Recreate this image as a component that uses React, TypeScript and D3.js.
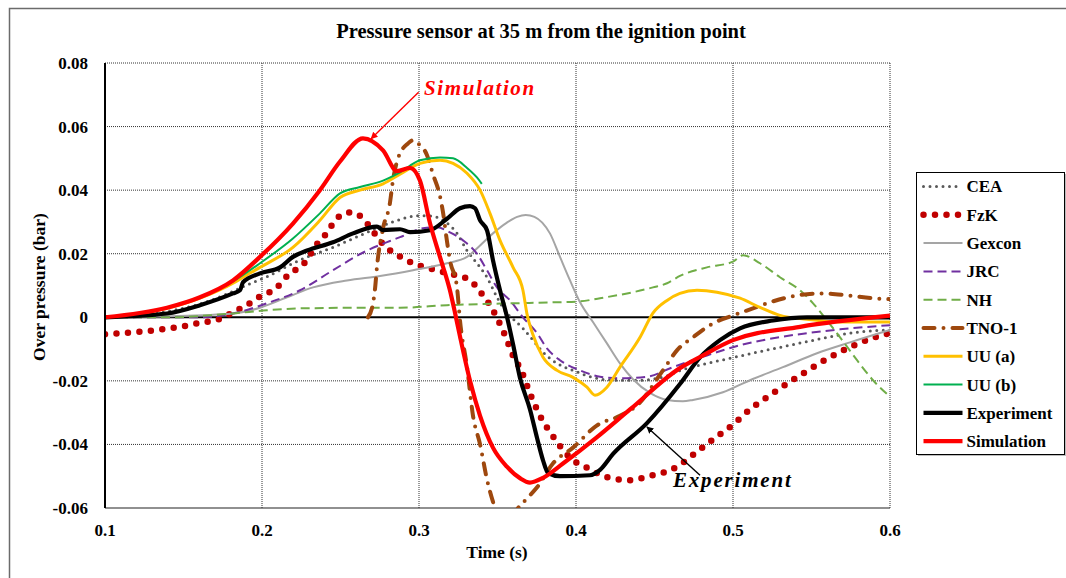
import React from 'react';
import * as d3 from 'd3';

const W = 1066;
const H = 578;

// ---- axes ----
const xDomain = [0.1, 0.6];
const yDomain = [-0.06, 0.08];
const xTicks = [0.1, 0.2, 0.3, 0.4, 0.5, 0.6];
const yTicks = [-0.06, -0.04, -0.02, 0, 0.02, 0.04, 0.06, 0.08];
const title = 'Pressure sensor at 35 m from the ignition point';
const xTitle = 'Time (s)';
const yTitle = 'Over pressure (bar)';

// ---- series data ----
const ceaT = [0.1, 0.1395, 0.1605, 0.1752, 0.186, 0.2032, 0.2242, 0.2452, 0.2669, 0.2834, 0.3006, 0.3089, 0.3153, 0.3242, 0.3306, 0.3369, 0.3433, 0.3497, 0.356, 0.3599, 0.3662, 0.3726, 0.379, 0.3879, 0.3981, 0.4108, 0.4236, 0.4408, 0.458, 0.4662, 0.4834, 0.4981, 0.5153, 0.5363, 0.5573, 0.579, 0.6];
const ceaV = [0, 0.0018, 0.0042, 0.0068, 0.0092, 0.0128, 0.018, 0.022, 0.0267, 0.03, 0.032, 0.0318, 0.0305, 0.0264, 0.021, 0.017, 0.0126, 0.0063, 0.0013, -0.0005, -0.0035, -0.0072, -0.011, -0.0145, -0.0167, -0.0189, -0.0198, -0.0198, -0.0184, -0.0168, -0.0145, -0.0129, -0.011, -0.0088, -0.0066, -0.0047, -0.004];

const fzkT = [0.1, 0.1331, 0.1478, 0.1624, 0.1701, 0.1841, 0.1904, 0.1968, 0.2032, 0.2096, 0.2146, 0.221, 0.2274, 0.235, 0.2401, 0.2484, 0.256, 0.2637, 0.2688, 0.2771, 0.2834, 0.2898, 0.2962, 0.3038, 0.3115, 0.3185, 0.3261, 0.3325, 0.3376, 0.342, 0.3465, 0.3497, 0.3529, 0.356, 0.3592, 0.3656, 0.3707, 0.3771, 0.3853, 0.393, 0.3981, 0.4057, 0.4121, 0.4197, 0.4268, 0.4344, 0.442, 0.449, 0.4567, 0.4643, 0.4758, 0.4873, 0.4994, 0.5108, 0.5236, 0.535, 0.5478, 0.5605, 0.5745, 0.5885, 0.6];
const fzkV = [-0.0053, -0.004, -0.003, -0.0016, -0.001, 0.0022, 0.0038, 0.006, 0.0075, 0.0094, 0.0123, 0.0148, 0.0173, 0.023, 0.0258, 0.0314, 0.033, 0.0314, 0.0283, 0.023, 0.0204, 0.0186, 0.017, 0.0157, 0.0148, 0.0138, 0.0129, 0.0116, 0.009, 0.006, 0.0028, -0.0003, -0.0035, -0.0072, -0.0113, -0.0173, -0.024, -0.031, -0.0374, -0.0425, -0.045, -0.047, -0.0487, -0.0503, -0.051, -0.0513, -0.0506, -0.0497, -0.0487, -0.047, -0.0428, -0.0384, -0.034, -0.029, -0.0245, -0.0207, -0.0167, -0.0129, -0.0094, -0.0066, -0.005];

const gexT = [0.1, 0.1395, 0.1815, 0.1987, 0.2159, 0.2325, 0.2541, 0.2752, 0.2962, 0.3178, 0.3306, 0.3389, 0.3471, 0.356, 0.3625, 0.368, 0.3735, 0.3785, 0.3834, 0.3898, 0.3962, 0.4025, 0.4108, 0.4197, 0.428, 0.4363, 0.4471, 0.458, 0.468, 0.4745, 0.4936, 0.5108, 0.5318, 0.5535, 0.5745, 0.6];
const gexV = [0, 0.0003, 0.0012, 0.003, 0.0063, 0.0094, 0.0116, 0.013, 0.0148, 0.017, 0.019, 0.0226, 0.0264, 0.0298, 0.0316, 0.0322, 0.0316, 0.0298, 0.0264, 0.019, 0.0116, 0.0048, -0.0015, -0.0082, -0.0145, -0.0195, -0.0238, -0.026, -0.0264, -0.026, -0.0236, -0.0198, -0.0157, -0.0113, -0.0079, -0.004];

const jrcT = [0.1, 0.1605, 0.1815, 0.2032, 0.2242, 0.2452, 0.2669, 0.2815, 0.2879, 0.3025, 0.3115, 0.3197, 0.328, 0.3369, 0.3433, 0.3497, 0.358, 0.3662, 0.3752, 0.3815, 0.3898, 0.4025, 0.4153, 0.428, 0.4452, 0.4618, 0.4834, 0.5045, 0.5255, 0.5471, 0.5682, 0.6];
const jrcV = [0, 0, 0.0012, 0.0044, 0.0085, 0.0148, 0.021, 0.024, 0.0252, 0.028, 0.0283, 0.0267, 0.0242, 0.02, 0.0148, 0.0094, 0.0053, 0, -0.005, -0.0098, -0.0135, -0.0167, -0.0187, -0.0192, -0.0187, -0.0157, -0.012, -0.0088, -0.0066, -0.005, -0.0038, -0.0025];

const nhT = [0.1, 0.1395, 0.1815, 0.2032, 0.2242, 0.2669, 0.2879, 0.3178, 0.3599, 0.3853, 0.4025, 0.4153, 0.4325, 0.449, 0.458, 0.4662, 0.4834, 0.5, 0.5064, 0.5172, 0.5299, 0.5427, 0.551, 0.5599, 0.5682, 0.579, 0.5892, 0.6];
const nhV = [0, 0, 0.0012, 0.0022, 0.0028, 0.003, 0.003, 0.0038, 0.0044, 0.0047, 0.005, 0.006, 0.0075, 0.0094, 0.0107, 0.013, 0.0157, 0.0175, 0.0195, 0.017, 0.0126, 0.0085, 0.0044, -0.001, -0.0063, -0.0135, -0.0198, -0.025];

const tnoT = [0.2675, 0.2707, 0.272, 0.2732, 0.2771, 0.2815, 0.2834, 0.2866, 0.293, 0.2962, 0.2994, 0.3051, 0.3089, 0.3134, 0.3153, 0.3178, 0.3197, 0.3242, 0.3261, 0.3306, 0.3344, 0.3389, 0.3433, 0.3471, 0.3548, 0.3631, 0.3688, 0.3752, 0.3853, 0.3981, 0.4134, 0.428, 0.4389, 0.4554, 0.4643, 0.4745, 0.4873, 0.5, 0.5127, 0.5255, 0.5408, 0.5554, 0.5726, 0.5892, 0.6];
const tnoV = [0, 0.0044, 0.009, 0.0157, 0.028, 0.036, 0.043, 0.05, 0.0547, 0.0557, 0.0547, 0.051, 0.045, 0.038, 0.033, 0.024, 0.018, 0.0094, -0.001, -0.0157, -0.031, -0.04, -0.051, -0.058, -0.067, -0.06, -0.057, -0.0535, -0.046, -0.041, -0.034, -0.031, -0.0277, -0.0167, -0.0104, -0.0063, -0.0019, 0.0006, 0.0028, 0.005, 0.0069, 0.0075, 0.0069, 0.006, 0.0057];

const uuaT = [0.1, 0.1395, 0.1605, 0.1815, 0.1879, 0.1987, 0.2197, 0.2369, 0.2497, 0.2624, 0.2771, 0.2879, 0.3006, 0.3134, 0.3217, 0.3306, 0.3389, 0.3452, 0.3516, 0.3599, 0.3662, 0.3688, 0.3726, 0.379, 0.3879, 0.3981, 0.407, 0.4121, 0.4197, 0.428, 0.4408, 0.449, 0.458, 0.4662, 0.4771, 0.4898, 0.5045, 0.5172, 0.5299, 0.5471, 0.5682, 0.6];
const uuaV = [0, 0.0028, 0.006, 0.0107, 0.0126, 0.0157, 0.022, 0.0305, 0.0377, 0.04, 0.042, 0.045, 0.0484, 0.0494, 0.0484, 0.0453, 0.04, 0.0327, 0.0242, 0.0157, 0.0085, 0.001, -0.0055, -0.0126, -0.0167, -0.0189, -0.022, -0.0245, -0.022, -0.0157, -0.0063, 0.0013, 0.0053, 0.0075, 0.0085, 0.0079, 0.006, 0.0031, 0.0006, -0.0006, -0.0015, -0.0015];

const uubT = [0.1, 0.1395, 0.1605, 0.1815, 0.1987, 0.2197, 0.2369, 0.2497, 0.2624, 0.2771, 0.2879, 0.3006, 0.3134, 0.3217, 0.3306, 0.3369, 0.34];
const uubV = [0, 0.003, 0.0063, 0.0113, 0.017, 0.0248, 0.0327, 0.039, 0.041, 0.043, 0.0456, 0.0494, 0.0503, 0.05, 0.047, 0.044, 0.042];

const expT = [0.1, 0.1395, 0.1605, 0.1815, 0.186, 0.1879, 0.1987, 0.2115, 0.2197, 0.2287, 0.2452, 0.258, 0.2732, 0.2771, 0.2879, 0.2943, 0.307, 0.3178, 0.3261, 0.3325, 0.3357, 0.3389, 0.3433, 0.3471, 0.3516, 0.3561, 0.3599, 0.3643, 0.3707, 0.3752, 0.379, 0.3822, 0.3898, 0.4089, 0.4153, 0.4236, 0.4452, 0.4662, 0.479, 0.4917, 0.5045, 0.5255, 0.5471, 0.6];
const expV = [0, 0.0012, 0.0038, 0.0075, 0.0085, 0.011, 0.0138, 0.0157, 0.019, 0.021, 0.0236, 0.0264, 0.0285, 0.0274, 0.0277, 0.0268, 0.0274, 0.031, 0.0343, 0.035, 0.0343, 0.0305, 0.0274, 0.018, 0.0085, 0, -0.0085, -0.019, -0.029, -0.038, -0.045, -0.049, -0.05, -0.0497, -0.048, -0.043, -0.0333, -0.021, -0.0126, -0.0072, -0.0035, -0.001, 0, 0];

const simT = [0.1, 0.1395, 0.1605, 0.1815, 0.1987, 0.2197, 0.2369, 0.2497, 0.2643, 0.2771, 0.286, 0.2943, 0.3006, 0.307, 0.3134, 0.3197, 0.3229, 0.3261, 0.3325, 0.3389, 0.3471, 0.356, 0.3643, 0.3707, 0.379, 0.3917, 0.4134, 0.4344, 0.4662, 0.479, 0.5, 0.5427, 0.6];
const simV = [0, 0.003, 0.0063, 0.0116, 0.019, 0.0295, 0.04, 0.049, 0.0563, 0.0525, 0.046, 0.047, 0.043, 0.0296, 0.0189, 0.0085, 0.0015, -0.006, -0.02, -0.031, -0.041, -0.047, -0.0506, -0.052, -0.0505, -0.046, -0.0377, -0.029, -0.016, -0.0125, -0.0072, -0.003, 0.0005];

const seriesNames = ['CEA', 'FzK', 'Gexcon', 'JRC', 'NH', 'TNO-1', 'UU (a)', 'UU (b)', 'Experiment', 'Simulation'];

// annotations (data coords)
const simLabel = { text: 'Simulation', t: 0.3032, v: 0.0698, fromT: 0.2997, fromV: 0.0708, toT: 0.2695, toV: 0.0562 };
const expLabel = { text: 'Experiment', t: 0.4618, v: -0.0535, fromT: 0.479, fromV: -0.0497, toT: 0.4452, toV: -0.0345 };

type Style = { color: string; width: number; dash?: string; cap?: string };
const styles: Style[] = [
  { color: '#595959', width: 3, dash: '0 6.5', cap: 'round' },
  { color: '#C00000', width: 6.5, dash: '0 11.5', cap: 'round' },
  { color: '#A5A5A5', width: 2 },
  { color: '#7030A0', width: 2, dash: '9 5' },
  { color: '#70AD47', width: 2, dash: '9 5' },
  { color: '#9E480E', width: 4, dash: '11 9 0 9', cap: 'round' },
  { color: '#FFC000', width: 3 },
  { color: '#00B050', width: 2 },
  { color: '#000000', width: 4.2 },
  { color: '#FF0000', width: 4.2 },
];

const seriesData: [number[], number[]][] = [
  [ceaT, ceaV], [fzkT, fzkV], [gexT, gexV], [jrcT, jrcV], [nhT, nhV],
  [tnoT, tnoV], [uuaT, uuaV], [uubT, uubV], [expT, expV], [simT, simV],
];

const FONT = '"Liberation Serif", "Times New Roman", serif';

export default function App() {
  const x = d3.scaleLinear().domain(xDomain).range([105, 890]);
  const y = d3.scaleLinear().domain(yDomain).range([508, 63]);
  const line = d3
    .line<[number, number]>()
    .x((d) => x(d[0]))
    .y((d) => y(d[1]))
    .curve(d3.curveMonotoneX);

  const x0 = x(xDomain[0]);
  const x1 = x(xDomain[1]);
  const yTop = y(yDomain[1]);
  const yBot = y(yDomain[0]);

  const legendX = 916.5;
  const legendY = 172.5;
  const legendRow = 28.3;

  const arrow = (a: typeof simLabel, color: string, id: string) => (
    <line
      x1={x(a.fromT)}
      y1={y(a.fromV)}
      x2={x(a.toT)}
      y2={y(a.toV)}
      stroke={color}
      strokeWidth={1.4}
      markerEnd={`url(#${id})`}
    />
  );

  const fmtY = (v: number) => (v === 0 ? '0' : d3.format('.2f')(v).replace('−', '-'));

  return (
    <svg width={W} height={H} style={{ position: 'absolute', left: 0, top: 0, background: '#fff' }} fontFamily={FONT}>
      <defs>
        <clipPath id="plotClip">
          <rect x={x0} y={yTop} width={x1 - x0} height={yBot - yTop} />
        </clipPath>
        <marker id="arrRed" viewBox="0 0 10 10" refX="9" refY="5" markerWidth="7" markerHeight="7" orient="auto" markerUnits="userSpaceOnUse">
          <path d="M0,0 L10,5 L0,10 z" fill="#FF0000" />
        </marker>
        <marker id="arrBlack" viewBox="0 0 10 10" refX="9" refY="5" markerWidth="7" markerHeight="7" orient="auto" markerUnits="userSpaceOnUse">
          <path d="M0,0 L10,5 L0,10 z" fill="#000" />
        </marker>
      </defs>
      <rect x={0} y={0} width={W} height={H} fill="#fff" />
      {/* outer frame */}
      <rect x={9.5} y={8.5} width={1080} height={620} fill="none" stroke="#6b6b6b" strokeWidth={1.5} />

      {/* title */}
      <text x={541} y={38} textAnchor="middle" fontSize={20.5} fontWeight="bold">{title}</text>

      {/* gridlines */}
      {yTicks.filter((v) => v !== 0 && v !== yDomain[0]).map((v) => (
        <line key={'gy' + v} x1={x0} x2={x1} y1={y(v)} y2={y(v)} stroke="#333" strokeWidth={1} strokeDasharray="1 1" />
      ))}
      {xTicks.filter((t) => t !== xDomain[0]).map((t) => (
        <line key={'gx' + t} x1={x(t)} x2={x(t)} y1={yTop} y2={yBot} stroke="#333" strokeWidth={1} strokeDasharray="1 1" />
      ))}
      <line x1={x0} x2={x1} y1={yBot} y2={yBot} stroke="#222" strokeWidth={1.2} />

      {/* zero line */}
      <line x1={x0} x2={x1} y1={y(0)} y2={y(0)} stroke="#000" strokeWidth={2} />

      {/* series */}
      <g clipPath="url(#plotClip)">
        {seriesData.map(([ts, vs], i) => {
          const st = styles[i];
          const pts = ts.map((t, k) => [t, vs[k]] as [number, number]);
          return (
            <path
              key={seriesNames[i]}
              d={line(pts) || ''}
              fill="none"
              stroke={st.color}
              strokeWidth={st.width}
              strokeDasharray={st.dash}
              strokeLinecap={(st.cap as any) || 'butt'}
              strokeLinejoin="round"
            />
          );
        })}
      </g>

      {/* left axis */}
      <line x1={x0} x2={x0} y1={yTop} y2={yBot} stroke="#000" strokeWidth={2} />

      {/* tick labels */}
      {yTicks.map((v) => (
        <text key={'ty' + v} x={88} y={y(v)} dy="0.35em" textAnchor="end" fontSize={17} fontWeight="bold">
          {fmtY(v)}
        </text>
      ))}
      {xTicks.map((t) => (
        <text key={'tx' + t} x={x(t)} y={536} textAnchor="middle" fontSize={17} fontWeight="bold">
          {d3.format('.1f')(t)}
        </text>
      ))}

      {/* axis titles */}
      <text x={497} y={558} textAnchor="middle" fontSize={17.5} fontWeight="bold">{xTitle}</text>
      <text transform={`translate(45, ${287}) rotate(-90)`} textAnchor="middle" fontSize={17.5} fontWeight="bold">{yTitle}</text>

      {/* annotations */}
      {arrow(simLabel, '#FF0000', 'arrRed')}
      <text x={x(simLabel.t)} y={y(simLabel.v)} fill="#FF0000" fontSize={21} fontWeight="bold" fontStyle="italic" letterSpacing={1.6}>{simLabel.text}</text>
      {arrow(expLabel, '#000', 'arrBlack')}
      <text x={x(expLabel.t)} y={y(expLabel.v)} fill="#000" fontSize={21} fontWeight="bold" fontStyle="italic" letterSpacing={1.8}>{expLabel.text}</text>

      {/* legend */}
      <rect x={legendX + 1.5} y={legendY + 1.5} width={148} height={282} fill="#bdbdbd" />
      <rect x={legendX} y={legendY} width={148} height={282} fill="#fff" stroke="#000" strokeWidth={1} />
      {seriesNames.map((name, i) => {
        const st = styles[i];
        const cy = legendY + 14 + i * legendRow;
        return (
          <g key={'lg' + name}>
            <line
              x1={legendX + 7}
              x2={legendX + 46}
              y1={cy}
              y2={cy}
              stroke={st.color}
              strokeWidth={st.width}
              strokeDasharray={st.dash}
              strokeLinecap={(st.cap as any) || 'butt'}
            />
            <text x={legendX + 50} y={cy} dy="0.35em" fontSize={17} fontWeight="bold">{name}</text>
          </g>
        );
      })}
    </svg>
  );
}
